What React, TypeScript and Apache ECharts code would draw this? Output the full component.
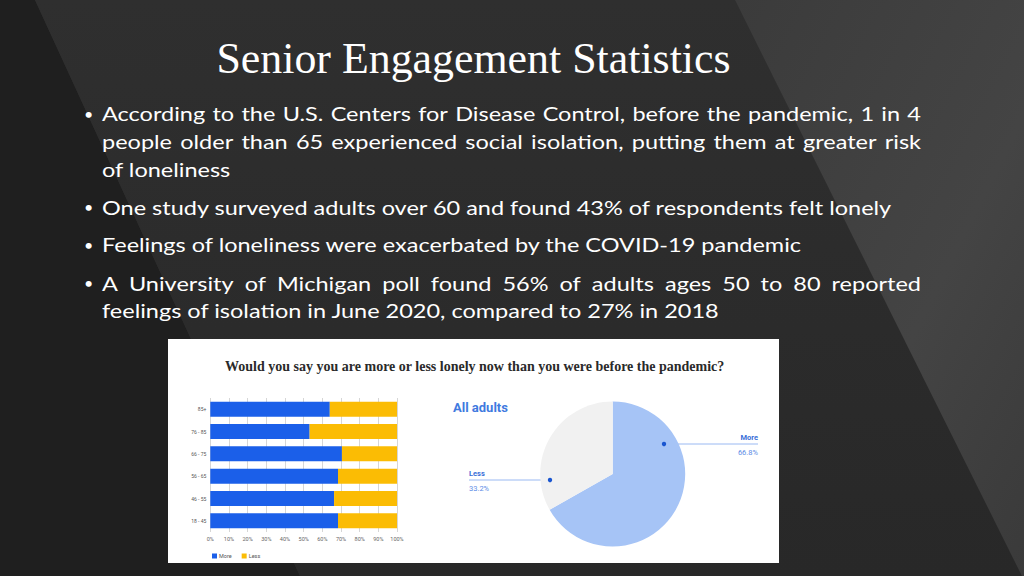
import React, { useEffect, useRef } from "react";
import * as echarts from "echarts";

// ---------- data ----------
const slideTitle = "Senior Engagement Statistics";
const bulletLines = [
  "According to the U.S. Centers for Disease Control, before the pandemic, 1 in 4",
  "people older than 65 experienced social isolation, putting them at greater risk",
  "of loneliness",
  "One study surveyed adults over 60 and found 43% of respondents felt lonely",
  "Feelings of loneliness were exacerbated by the COVID-19 pandemic",
  "A University of Michigan poll found 56% of adults ages 50 to 80 reported",
  "feelings of isolation in June 2020, compared to 27% in 2018",
];
const chartQuestion =
  "Would you say you are more or less lonely now than you were before the pandemic?";
const ageGroups = ["85+", "76 - 85", "66 - 75", "56 - 65", "46 - 55", "18 - 45"];
const moreShare = [64, 53.2, 70.5, 68.4, 66.3, 68.4];
const lessShare = [36, 46.8, 29.5, 31.6, 33.7, 31.6];
const pieTitle = "All adults";
const pieNames = ["More", "Less"];
const pieValues = [66.8, 33.2];

// ---------- layout (not data) ----------
const lineLayout = [
  { y: 121, bullet: true, justify: true },
  { y: 148.5, bullet: false, justify: true },
  { y: 176.5, bullet: false, justify: false },
  { y: 214.5, bullet: true, justify: false },
  { y: 252, bullet: true, justify: false },
  { y: 290.5, bullet: true, justify: true },
  { y: 318, bullet: false, justify: false },
];

const BLUE = "#1b5fe9";
const YELLOW = "#fbbc04";

export default function App() {
  const ref = useRef<HTMLDivElement>(null);

  useEffect(() => {
    if (!ref.current) return;
    const chart = echarts.init(ref.current, null, { renderer: "svg" });

    const FS = 20;
    const FF = "Lato";
    const canvas = document.createElement("canvas");
    const ctx = canvas.getContext("2d")!;
    ctx.font = `${FS}px ${FF}`;
    const k = 791 / ctx.measureText(bulletLines[3]).width;
    const textLeft = 102;
    const textRight = 921;
    const centralOffset = 0.387 * FS;

    const textEls: any[] = [];
    bulletLines.forEach((line, i) => {
      const lay = lineLayout[i];
      const cy = lay.y - centralOffset;
      if (lay.bullet) {
        textEls.push({
          type: "text",
          x: 84,
          y: cy,
          z: 5,
          style: { text: "•", fill: "#ffffff", fontSize: 16, fontFamily: FF, align: "left", verticalAlign: "middle" },
        });
      }
      if (lay.justify) {
        const words = line.split(" ");
        const widths = words.map((w) => ctx.measureText(w).width * k);
        const total = widths.reduce((a, b) => a + b, 0);
        const gap = (textRight - textLeft - total) / (words.length - 1);
        let x = textLeft;
        words.forEach((w, j) => {
          textEls.push({
            type: "text",
            x,
            y: cy,
            z: 5,
            scaleX: k,
            style: { text: w, fill: "#ffffff", fontSize: FS, fontFamily: FF, align: "left", verticalAlign: "middle" },
          });
          x += widths[j] + gap;
        });
      } else {
        textEls.push({
          type: "text",
          x: textLeft,
          y: cy,
          z: 5,
          scaleX: k,
          style: { text: line, fill: "#ffffff", fontSize: FS, fontFamily: FF, align: "left", verticalAlign: "middle" },
        });
      }
    });

    const pieCenter = [612.7, 474];
    const labelSpec: Record<string, any> = {
      More: { x: 758, y: 445, align: "right", pts: [[664, 444], [711, 444], [758, 444]] },
      Less: { x: 469, y: 481, align: "left", pts: [[550, 480], [510, 480], [469, 480]] },
    };

    const option: any = {
      animation: false,
      backgroundColor: "#2c2c2c",
      graphic: [
        {
          type: "polygon",
          z: 0,
          shape: { points: [[0, 0], [35, 0], [300, 576], [0, 576]] },
          style: { fill: "#1f1f1f" },
        },
        {
          type: "polygon",
          z: 0,
          shape: { points: [[35, 0], [735, 0], [1022, 576], [300, 576]] },
          style: {
            fill: new echarts.graphic.LinearGradient(0, 0, 0, 1, [
              { offset: 0, color: "#2f2f2f" },
              { offset: 1, color: "#282828" },
            ]),
          },
        },
        {
          type: "polygon",
          z: 0,
          shape: { points: [[735, 0], [1024, 0], [1024, 576], [1022, 576]] },
          style: {
            fill: new echarts.graphic.LinearGradient(0, 0, 1, 1, [
              { offset: 0, color: "#3b3b3b" },
              { offset: 0.6, color: "#444444" },
              { offset: 1, color: "#3a3a3a" },
            ]),
          },
        },
        {
          type: "text",
          x: 473.5,
          y: 58.3,
          z: 5,
          scaleX: 0.975,
          style: {
            text: slideTitle,
            fill: "#ffffff",
            fontSize: 45,
            fontFamily: "Liberation Serif",
            align: "center",
            verticalAlign: "middle",
          },
        },
        ...textEls,
        {
          type: "rect",
          z: 1,
          shape: { x: 168, y: 339, width: 611, height: 224 },
          style: { fill: "#ffffff" },
        },
        {
          type: "text",
          x: 474.7,
          y: 366,
          z: 5,
          style: {
            text: chartQuestion,
            fill: "#2a2a2a",
            fontSize: 14,
            fontWeight: "bold",
            fontFamily: "Liberation Serif",
            align: "center",
            verticalAlign: "middle",
          },
        },
        {
          type: "text",
          x: 453,
          y: 407,
          z: 5,
          style: {
            text: pieTitle,
            fill: "#3f7ae0",
            fontSize: 13,
            fontWeight: "bold",
            fontFamily: "Roboto",
            align: "left",
            verticalAlign: "middle",
          },
        },
        {
          type: "circle",
          z: 20,
          shape: { cx: 664, cy: 444, r: 2.2 },
          style: { fill: "#1a56d0" },
        },
        {
          type: "circle",
          z: 20,
          shape: { cx: 550, cy: 480, r: 2.2 },
          style: { fill: "#1a56d0" },
        },
      ],
      grid: { left: 210.3, top: 398, width: 186.7, height: 134, containLabel: false },
      xAxis: {
        type: "value",
        min: 0,
        max: 100,
        interval: 10,
        z: 5,
        axisLine: { show: false },
        axisTick: { show: false },
        axisLabel: {
          formatter: "{value}%",
          fontSize: 5.5,
          color: "#666",
          fontFamily: "Roboto",
          margin: 4,
        },
        splitLine: { show: true, lineStyle: { color: "#d6d6d6", width: 1 } },
      },
      yAxis: {
        type: "category",
        data: ageGroups,
        inverse: true,
        z: 5,
        axisLine: { show: false },
        axisTick: { show: false },
        axisLabel: { fontSize: 5, color: "#555", fontFamily: "Roboto", margin: 4 },
      },
      legend: {
        left: 207,
        top: 548,
        z: 10,
        icon: "rect",
        itemWidth: 5,
        itemHeight: 5,
        itemGap: 10,
        data: ["More", "Less"],
        textStyle: { fontSize: 5.5, color: "#555", fontFamily: "Roboto", padding: [0, 0, 0, -3] },
      },
      series: [
        {
          name: "More",
          type: "bar",
          stack: "total",
          z: 10,
          barWidth: 15,
          data: moreShare,
          itemStyle: { color: BLUE },
        },
        {
          name: "Less",
          type: "bar",
          stack: "total",
          z: 10,
          barWidth: 15,
          data: lessShare,
          itemStyle: { color: YELLOW },
        },
        {
          name: "All adults",
          type: "pie",
          z: 10,
          center: pieCenter,
          radius: 72.5,
          startAngle: 90,
          clockwise: true,
          data: pieNames.map((n, i) => ({ name: n, value: pieValues[i] })),
          color: ["#a6c4f6", "#f1f1f1"],
          label: {
            show: true,
            position: "outside",
            formatter: "{n|{b}}\n{v|{c}%}",
            rich: {
              n: { fontSize: 7.5, fontWeight: "bold", color: "#3a6fd8", fontFamily: "Roboto", lineHeight: 15 },
              v: { fontSize: 7.5, color: "#5b8ce6", fontFamily: "Roboto", lineHeight: 15 },
            },
          },
          labelLine: { show: true, lineStyle: { color: "#9ab9f2", width: 1 } },
          labelLayout: (params: any) => {
            const name = pieNames[params.dataIndex];
            const s = labelSpec[name];
            return {
              x: s.x,
              y: s.y,
              align: s.align,
              verticalAlign: "middle",
              labelLinePoints: s.pts,
            };
          },
          emphasis: { disabled: true },
        },
      ],
    };

    chart.setOption(option);
    return () => chart.dispose();
  }, []);

  return (
    <div
      ref={ref}
      style={{ position: "absolute", left: 0, top: 0, width: 1024, height: 576 }}
    />
  );
}
